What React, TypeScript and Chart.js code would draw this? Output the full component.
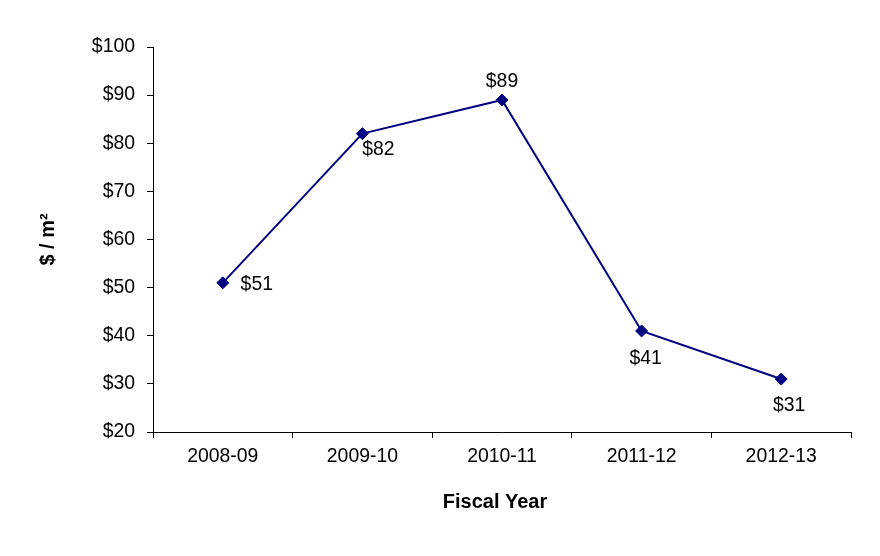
import React, { useEffect, useRef } from "react";
import { Chart, registerables } from "chart.js";

Chart.register(...registerables);

const categories = ["2008-09", "2009-10", "2010-11", "2011-12", "2012-13"];
const costPerM2 = [51, 82, 89, 41, 31];
const yMin = 20;
const yMax = 100;
const yStep = 10;
const xTitle = "Fiscal Year";
const yTitle = "$ / m²";

const labelOffsets = [
  { dx: 34, dy: 2 },
  { dx: 16, dy: 16 },
  { dx: 0, dy: -18 },
  { dx: 4, dy: 28 },
  { dx: 8, dy: 27 },
];

const FONT = "'Liberation Sans', Arial, sans-serif";
const NAVY = "#000080";
const TICK_SIZE = 19.4;

const dataLabelPlugin = {
  id: "dataLabels",
  afterDatasetsDraw(chart: any) {
    const ctx = chart.ctx;
    const meta = chart.getDatasetMeta(0);
    const values = chart.data.datasets[0].data;
    ctx.save();
    ctx.font = `${TICK_SIZE}px ${FONT}`;
    ctx.fillStyle = "#000";
    ctx.textAlign = "center";
    ctx.textBaseline = "middle";
    meta.data.forEach((pt: any, i: number) => {
      const off = labelOffsets[i];
      ctx.fillText("$" + values[i], pt.x + off.dx, pt.y + off.dy);
    });
    ctx.restore();
  },
};

const xTitlePlugin = {
  id: "xTitle",
  afterDraw(chart: any) {
    const ctx = chart.ctx;
    const area = chart.chartArea;
    ctx.save();
    ctx.font = `bold 20px ${FONT}`;
    ctx.fillStyle = "#000";
    ctx.textAlign = "center";
    ctx.textBaseline = "middle";
    ctx.fillText(xTitle, (area.left + area.right) / 2 - 7, area.bottom + 70);
    ctx.restore();
  },
};

export default function App() {
  const ref = useRef<HTMLCanvasElement | null>(null);
  useEffect(() => {
    if (!ref.current) return;
    const chart = new Chart(ref.current, {
      type: "line",
      data: {
        labels: categories,
        datasets: [
          {
            data: costPerM2,
            borderColor: NAVY,
            backgroundColor: NAVY,
            borderWidth: 2,
            pointStyle: "rectRot",
            pointRadius: 6,
            pointBackgroundColor: NAVY,
            pointBorderColor: NAVY,
            pointBorderWidth: 1,
            tension: 0,
            fill: false,
          },
        ],
      },
      options: {
        responsive: false,
        animation: false,
        layout: { padding: { top: 47, right: 29, left: 20, bottom: 0 } },
        plugins: {
          legend: { display: false },
          tooltip: { enabled: false },
        },
        scales: {
          x: {
            type: "category",
            offset: true,
            grid: {
              offset: true,
              drawOnChartArea: false,
              drawTicks: true,
              tickLength: 6,
              color: "#000",
            },
            border: { color: "#000", width: 1 },
            ticks: {
              color: "#000",
              font: { family: FONT, size: TICK_SIZE },
              padding: 7,
              maxRotation: 0,
            },
            afterFit(scale: any) {
              scale.height = 124;
            },
          },
          y: {
            min: yMin,
            max: yMax,
            grid: {
              drawOnChartArea: false,
              drawTicks: true,
              tickLength: 6,
              color: "#000",
            },
            border: { color: "#000", width: 1 },
            ticks: {
              stepSize: yStep,
              color: "#000",
              font: { family: FONT, size: TICK_SIZE },
              padding: 12,
              callback: (v: any) => "$" + v,
            },
            title: {
              display: true,
              text: yTitle,
              color: "#000",
              font: { family: FONT, size: 20, weight: "bold" },
              padding: { top: 16, bottom: 0 },
            },
            afterFit(scale: any) {
              scale.width = 133;
            },
          },
        },
      },
      plugins: [dataLabelPlugin, xTitlePlugin],
    });
    return () => chart.destroy();
  }, []);
  return (
    <div style={{ position: "fixed", left: 0, top: 0, width: 880, height: 556, background: "#fff" }}>
      <canvas ref={ref} width={880} height={556} />
    </div>
  );
}
